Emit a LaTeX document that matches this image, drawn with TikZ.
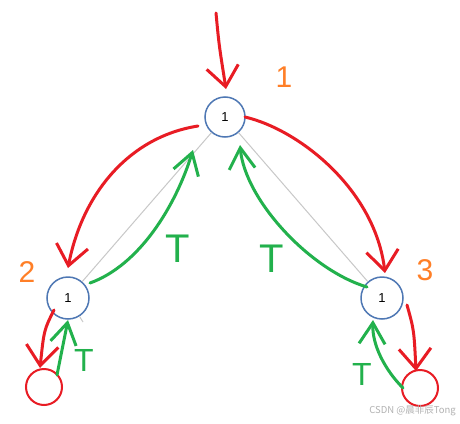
\documentclass[tikz,border=0pt]{standalone}
\usepackage{fontspec}
\setmainfont{Liberation Sans}
\newfontfamily\cjk{Noto Sans CJK SC}
\usetikzlibrary{arrows.meta}
\definecolor{nodeblue}{RGB}{79,120,180}
\definecolor{hred}{RGB}{232,28,36}
\definecolor{hgreen}{RGB}{34,177,76}
\definecolor{horange}{RGB}{255,127,39}
\definecolor{edgegray}{RGB}{200,200,200}
\begin{document}
\begin{tikzpicture}[x=1pt,y=-1pt,
  treenode/.style={circle, draw=nodeblue, line width=1.5pt, minimum size=40pt, inner sep=0pt, font=\fontsize{13}{13}\selectfont},
  leafnode/.style={circle, draw=hred, line width=2pt, minimum size=36pt, inner sep=0pt},
  treeedge/.style={draw=edgegray, line width=1pt},
  redarrow/.style={draw=hred, line width=3pt, line cap=round, line join=round, -{Straight Barb[length=20pt,width=32pt]}},
  greenarrow/.style={draw=hgreen, line width=3pt, line cap=round, line join=round, -{Straight Barb[length=21pt,width=26pt]}},
  greenmark/.style={text=hgreen, inner sep=0pt, font=\fontsize{40}{40}\selectfont},
  smallmark/.style={text=hgreen, inner sep=0pt, font=\fontsize{32}{32}\selectfont},
  orangelabel/.style={text=horange, inner sep=0pt, font=\fontsize{30}{30}\selectfont}
]
\fill[white] (0,0) rectangle (460,423);
\useasboundingbox (0,0) rectangle (460,423);

\coordinate (rootC) at (225,117);
\coordinate (LC) at (68,298);
\coordinate (RC) at (382,298);

% nodes
\node[treenode] (root) at (rootC) {1};
\node[treenode, minimum size=42pt] (L) at (LC) {1};
\node[treenode, minimum size=42pt] (R) at (RC) {1};
\node[leafnode] (LL) at (44,387) {};
\node[leafnode] (RL) at (420,388) {};

% tree edges
\coordinate (Lstub) at (83,322);
\draw[treeedge] (root) -- (L);
\draw[treeedge] (root) -- (R);
\draw[treeedge] (L) -- (Lstub);

% red coordinates
\coordinate (top) at (216,13);
\coordinate (rootIn) at (226,89);
\coordinate (rootW) at (198,126);
\coordinate (Ltop) at (68,268);
\coordinate (rootE) at (245,117);
\coordinate (Rtop) at (385,273);
\coordinate (Lbot) at (54,310);
\coordinate (LLtop) at (40,368);
\coordinate (Rbot) at (407,305);
\coordinate (RLtop) at (416,371);

\draw[redarrow] (top) .. controls (219,45) .. (rootIn);
\draw[redarrow] (rootW) .. controls (128,137) and (82,195) .. (Ltop);
\draw[redarrow] (rootE) .. controls (300,130) and (375,190) .. (Rtop);
\draw[redarrow] (Lbot) .. controls (44,330) .. (LLtop);
\draw[redarrow] (Rbot) .. controls (414,330) .. (RLtop);

% green coordinates
\coordinate (Lout) at (90,283);
\coordinate (rootSW) at (193,150);
\coordinate (Rout) at (367,287);
\coordinate (rootS) at (240,145);
\coordinate (LLout) at (57,375);
\coordinate (Lin) at (68,320);
\coordinate (RLout) at (403,388);
\coordinate (Rin) at (373,320);

\draw[greenarrow] (Lout) .. controls (140,265) and (176,205) .. (rootSW);
\draw[greenarrow] (Rout) .. controls (310,270) and (245,200) .. (rootS);
\draw[greenarrow] (LLout) .. controls (62,350) .. (Lin);
\draw[greenarrow] (RLout) .. controls (385,370) and (372,345) .. (Rin);

% green T marks
\node[greenmark] (t1) at (178,249) {T};
\node[greenmark] (t2) at (272,259) {T};
\node[smallmark] (t3) at (84,360) {T};
\node[smallmark] (t4) at (362,374) {T};

% orange labels
\node[orangelabel] (n1) at (284,77) {1};
\node[orangelabel] (n2) at (27,272) {2};
\node[orangelabel] (n3) at (425,270) {3};

% watermark
\node[anchor=east, text=black!30, inner sep=0pt, font=\cjk\fontsize{9.5}{10}\selectfont] (wm) at (456,411) {CSDN @晨非辰Tong};
\end{tikzpicture}
\end{document}
